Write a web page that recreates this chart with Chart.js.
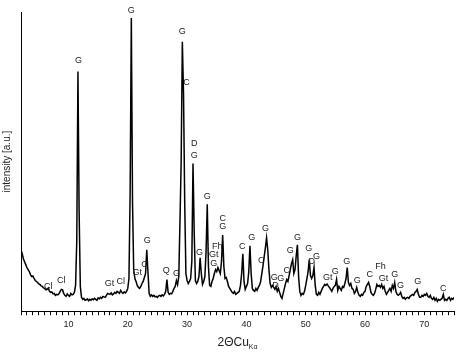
<!DOCTYPE html>
<html lang="en">
<head>
  <meta charset="UTF-8">
  <title>XRD pattern</title>
  <script src="https://cdn.jsdelivr.net/npm/chart.js"></script>
  <style>
    html, body { margin: 0; padding: 0; background: #ffffff; }
    #wrap { width: 459px; height: 353px; }
  </style>
</head>
<body>
  <div id="wrap"><canvas id="xrd"></canvas></div>

  <script>
    // 2theta grid: 2.0 .. 75.0 in 0.2 degree steps
    const angleStart = 2.0;
    const angleStep = 0.2;

    // intensity [a.u.], one value per grid step
    const counts = [
      620, 580, 530, 500, 470, 440, 420, 400, 370, 350,   // 2.0
      355, 330, 310, 300, 290, 275, 270, 255, 250, 235,   // 4.0
      230, 215, 220, 235, 200, 190, 195, 175, 180, 160,   // 6.0
      170, 165, 175, 200, 220, 215, 180, 160, 150, 175,   // 8.0
      160, 150, 180, 165, 170, 190, 260, 700, 2420, 1000, // 10.0
      250, 140, 120, 130, 110, 115, 125, 105, 120, 110,   // 12.0
      125, 115, 130, 120, 110, 135, 125, 140, 130, 150,   // 14.0
      145, 140, 160, 180, 175, 170, 185, 165, 175, 190,   // 16.0
      180, 200, 190, 180, 210, 190, 180, 195, 185, 200,   // 18.0
      230, 330, 1200, 2960, 1100, 420, 330, 300, 260, 240, // 20.0
      230, 250, 280, 300, 340, 380, 620, 400, 180, 150,   // 22.0
      165, 150, 160, 145, 150, 140, 155, 160, 150, 165,   // 24.0
      155, 170, 200, 320, 190, 170, 180, 175, 200, 230,   // 26.0
      250, 310, 270, 350, 900, 1500, 2720, 2200, 1100, 380, // 28.0
      310, 280, 300, 330, 500, 1490, 800, 310, 280, 300,  // 30.0
      350, 540, 380, 270, 300, 350, 600, 1080, 450, 260,  // 32.0
      250, 300, 330, 380, 420, 400, 440, 410, 380, 500,   // 34.0
      770, 450, 330, 340, 300, 250, 230, 210, 190, 180,   // 36.0
      200, 170, 180, 190, 200, 260, 380, 580, 300, 220,   // 38.0
      250, 280, 400, 660, 380, 230, 210, 200, 230, 210,   // 40.0
      240, 260, 300, 380, 460, 550, 640, 740, 620, 420,   // 42.0
      280, 240, 260, 240, 220, 250, 200, 230, 190, 150,   // 44.0
      130, 180, 230, 280, 320, 300, 360, 420, 480, 520,   // 46.0
      380, 420, 560, 670, 350, 200, 160, 180, 170, 200,   // 48.0
      260, 330, 400, 520, 360, 330, 360, 440, 260, 170,   // 50.0
      160, 190, 170, 200, 230, 250, 270, 260, 275, 255,   // 52.0
      240, 220, 200, 230, 250, 260, 320, 210, 250, 230,   // 54.0
      210, 250, 240, 280, 330, 440, 290, 260, 280, 230,   // 56.0
      220, 180, 200, 240, 190, 160, 150, 170, 160, 190,   // 58.0
      200, 250, 270, 290, 250, 190, 170, 160, 180, 220,   // 60.0
      270, 250, 260, 240, 270, 230, 250, 200, 170, 190,   // 62.0
      210, 230, 200, 260, 230, 290, 200, 170, 160, 170,   // 64.0
      190, 150, 130, 140, 120, 135, 140, 130, 150, 160,   // 66.0
      170, 160, 190, 200, 220, 170, 140, 140, 160, 150,   // 68.0
      170, 160, 180, 150, 140, 160, 130, 120, 140, 110,   // 70.0
      130, 100, 120, 110, 120, 130, 170, 110, 120, 110,   // 72.0
      130, 140, 110, 130, 120, 140                        // 74.0
    ];

    // phase labels: angle, height, text
    const peakAngles = [6.6, 8.8, 11.7, 16.9, 18.8, 20.6, 21.6, 22.8, 23.3, 26.5, 28.2,
      29.2, 29.9, 31.2, 31.2, 32.1, 33.4, 35.1, 34.5, 34.5, 36.0, 36.0, 39.3, 40.9,
      43.2, 42.5, 44.7, 44.9, 45.8, 46.8, 47.4, 48.6, 50.5, 51.0, 51.8, 53.7, 55.0,
      56.9, 58.7, 60.8, 62.6, 63.1, 65.0, 66.0, 68.9, 73.2];
    const peakHeights = [250, 310, 2530, 280, 300, 3040, 390, 470, 710, 410, 380,
      2820, 2310, 1690, 1570, 590, 1160, 650, 570, 480, 940, 850, 650, 740,
      830, 510, 340, 260, 330, 410, 610, 740, 630, 500, 550, 340, 400,
      500, 310, 370, 450, 330, 370, 260, 300, 230];
    const peakPhases = ['Cl', 'Cl', 'G', 'Gt', 'Cl', 'G', 'Gt', 'C', 'G', 'Q', 'G',
      'G', 'C', 'D', 'G', 'G', 'G', 'Fh', 'Gt', 'G', 'C', 'G', 'C', 'G',
      'G', 'C', 'G', 'D', 'G', 'C', 'G', 'G', 'G', 'D', 'G', 'Gt', 'G',
      'G', 'G', 'C', 'Fh', 'Gt', 'G', 'G', 'G', 'C'];

    const xMin = 2, xMax = 75;
    const yMin = 0, yMax = 3020;

    const FONT = 'Arial, "Liberation Sans", Helvetica, sans-serif';

    const points = counts.map((c, i) => ({ x: +(angleStart + i * angleStep).toFixed(1), y: c }));

    // draws phase letters above peaks and the x axis title with subscript
    const annotate = {
      id: 'annotate',
      afterDraw(chart) {
        const { ctx, scales: { x, y }, chartArea } = chart;
        ctx.save();
        ctx.fillStyle = '#222';
        ctx.font = '9px ' + FONT;
        ctx.textAlign = 'center';
        ctx.textBaseline = 'middle';
        peakPhases.forEach((t, i) => {
          ctx.fillText(t, x.getPixelForValue(peakAngles[i]), y.getPixelForValue(peakHeights[i]));
        });

        // "2ΘCu" + subscript "Kα"
        const main = '2\u0398Cu';
        const sub = 'K\u03b1';
        ctx.font = '12px ' + FONT;
        const wMain = ctx.measureText(main).width;
        ctx.font = '7px ' + FONT;
        const wSub = ctx.measureText(sub).width;
        const cx = (chartArea.left + chartArea.right) / 2;
        const left = cx - (wMain + wSub) / 2;
        const base = 346;
        ctx.textAlign = 'left';
        ctx.textBaseline = 'alphabetic';
        ctx.font = '12px ' + FONT;
        ctx.fillText(main, left, base);
        ctx.font = '7px ' + FONT;
        ctx.fillText(sub, left + wMain, base + 3);
        ctx.restore();
      }
    };

    new Chart(document.getElementById('xrd'), {
      type: 'line',
      data: {
        datasets: [{
          data: points,
          borderColor: '#000',
          borderWidth: 1.5,
          pointRadius: 0,
          tension: 0,
          fill: false
        }]
      },
      options: {
        responsive: true,
        maintainAspectRatio: false,
        animation: false,
        layout: { padding: { left: 1, right: 5, top: 12, bottom: 19 } },
        plugins: { legend: { display: false }, tooltip: { enabled: false } },
        scales: {
          x: {
            type: 'linear',
            min: xMin,
            max: xMax,
            afterBuildTicks(scale) {
              const t = [];
              for (let v = xMin; v <= xMax; v++) t.push({ value: v });
              scale.ticks = t;
            },
            ticks: {
              autoSkip: false,
              maxRotation: 0,
              padding: 4,
              color: '#222',
              font: { family: FONT, size: 9 },
              callback: v => (v % 10 === 0 ? String(v) : '')
            },
            grid: { display: true, drawOnChartArea: false, drawTicks: true, tickLength: 4, color: '#000', lineWidth: 1 },
            border: { display: true, color: '#000', width: 1 }
          },
          y: {
            min: yMin,
            max: yMax,
            ticks: { display: false },
            grid: { display: false },
            border: { display: true, color: '#000', width: 1 },
            title: {
              display: true,
              text: 'intensity [a.u.]',
              color: '#222',
              font: { family: FONT, size: 10 },
              padding: { top: 0, bottom: 0 }
            }
          }
        }
      },
      plugins: [annotate]
    });
  </script>
</body>
</html>
